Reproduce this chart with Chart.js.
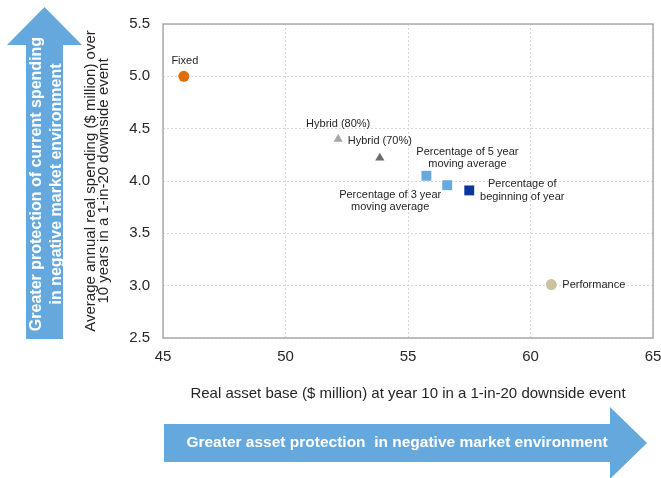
<!DOCTYPE html>
<html>
<head>
<meta charset="utf-8">
<script src="https://cdn.jsdelivr.net/npm/chart.js@4.4.1/dist/chart.umd.min.js"></script>
<style>
  html, body { margin: 0; padding: 0; background: #ffffff; }
  #wrap { width: 661px; height: 478px; position: relative; }
</style>
</head>
<body>
<div id="wrap"><canvas id="chart" width="661" height="478"></canvas></div>
<script>
// Spending rules compared in a 1-in-20 downside event
const strategies = ['Fixed', 'Hybrid (80%)', 'Hybrid (70%)', 'Percentage of 5 year moving average',
  'Percentage of 3 year moving average', 'Percentage of beginning of year', 'Performance'];
const assetBase = [45.85, 52.15, 53.85, 55.75, 56.6, 57.5, 60.85];      // $ million at year 10
const annualSpending = [5.0, 4.40, 4.22, 4.05, 3.96, 3.91, 3.01];      // $ million per year
const pointLabels = [
  ['Fixed'],
  ['Hybrid (80%)'],
  ['Hybrid (70%)'],
  ['Percentage of 5 year', 'moving average'],
  ['Percentage of 3 year', 'moving average'],
  ['Percentage of', 'beginning of year'],
  ['Performance']
];
const xTicks = [45, 50, 55, 60, 65];
const yTicks = [2.5, 3.0, 3.5, 4.0, 4.5, 5.0, 5.5];
const xTitle = 'Real asset base ($ million) at year 10 in a 1-in-20 downside event';
const yTitle = ['Average annual real spending ($ million) over', '10 years in a 1-in-20 downside event'];
const upArrowText = ['Greater protection of current spending', 'in negative market environment'];
const rightArrowText = 'Greater asset protection  in negative market environment';

// Marker styling
const markerColors = ['#e36c0a', '#a6a6a6', '#6b6b6b', '#65a9e0', '#65a9e0', '#0d359a', '#c9c3a0'];
const markerShapes = ['circle', 'triangle', 'triangle', 'rect', 'rect', 'rect', 'circle'];
const markerRadius = [5.5, 5.3, 5.3, 7, 7, 7, 5.5];
// Label placement relative to each marker: [dx, dy of first line, text align]
const labelPlacement = [
  [1, -15, 'center'],
  [0, -15, 'center'],
  [0, -17, 'center'],
  [41, -24, 'center'],
  [-57, 9.5, 'center'],
  [53, -6, 'center'],
  [11, 0, 'left']
];

const ARROW_BLUE = '#65a8dd';
const TEXT_DARK = '#262626';

const pointLabelPlugin = {
  id: 'pointLabels',
  afterDatasetsDraw(chart) {
    const ctx = chart.ctx;
    const meta = chart.getDatasetMeta(0);
    ctx.save();
    ctx.font = '11px "Liberation Sans", Arial, sans-serif';
    ctx.fillStyle = TEXT_DARK;
    ctx.textBaseline = 'middle';
    meta.data.forEach((pt, i) => {
      const [dx, dy, align] = labelPlacement[i];
      ctx.textAlign = align;
      pointLabels[i].forEach((line, k) => {
        ctx.fillText(line, pt.x + dx, pt.y + dy + k * 12.5);
      });
    });
    ctx.restore();
  }
};

const framePlugin = {
  id: 'frame',
  afterDraw(chart) {
    const { ctx, chartArea: a } = chart;
    ctx.save();
    ctx.strokeStyle = '#aaaaaa';
    ctx.lineWidth = 1.5;
    ctx.strokeRect(a.left, a.top, a.right - a.left, a.bottom - a.top);
    ctx.restore();
  }
};

const arrowPlugin = {
  id: 'arrows',
  beforeDraw(chart) {
    const { ctx, chartArea: a } = chart;
    ctx.save();
    ctx.fillStyle = ARROW_BLUE;

    // Upward arrow beside the spending axis
    ctx.beginPath();
    ctx.moveTo(26, a.bottom + 1);
    ctx.lineTo(26, 45);
    ctx.lineTo(7, 45);
    ctx.lineTo(44.5, 7);
    ctx.lineTo(82, 45);
    ctx.lineTo(63, 45);
    ctx.lineTo(63, a.bottom + 1);
    ctx.closePath();
    ctx.fill();

    // Rightward arrow under the asset axis
    ctx.beginPath();
    ctx.moveTo(a.left + 1, 424);
    ctx.lineTo(610, 424);
    ctx.lineTo(610, 407);
    ctx.lineTo(647, 443);
    ctx.lineTo(610, 479);
    ctx.lineTo(610, 462);
    ctx.lineTo(a.left + 1, 462);
    ctx.closePath();
    ctx.fill();

    ctx.fillStyle = '#ffffff';
    ctx.textAlign = 'center';
    ctx.textBaseline = 'middle';

    ctx.save();
    ctx.translate(0, 184);
    ctx.rotate(-Math.PI / 2);
    ctx.font = 'bold 16px "Liberation Sans", Arial, sans-serif';
    ctx.fillText(upArrowText[0], 0, 37);
    ctx.fillText(upArrowText[1], 0, 56.5);
    ctx.restore();

    ctx.font = 'bold 15.5px "Liberation Sans", Arial, sans-serif';
    ctx.fillText(rightArrowText, 397, 443);
    ctx.restore();
  }
};

const axisFont = { family: '"Liberation Sans", Arial, sans-serif', size: 15 };

new Chart(document.getElementById('chart'), {
  type: 'scatter',
  data: {
    datasets: [{
      label: 'Spending rules',
      data: assetBase.map((x, i) => ({ x: x, y: annualSpending[i] })),
      backgroundColor: markerColors,
      borderColor: markerColors,
      borderWidth: 0,
      pointStyle: markerShapes,
      pointRadius: markerRadius,
      pointHoverRadius: markerRadius
    }]
  },
  options: {
    responsive: false,
    animation: false,
    devicePixelRatio: 1,
    layout: { padding: { left: 83, right: 8, top: 24, bottom: 70 } },
    plugins: {
      legend: { display: false },
      tooltip: { enabled: false }
    },
    scales: {
      x: {
        type: 'linear',
        min: 45,
        max: 65,
        afterBuildTicks: s => { s.ticks = xTicks.map(v => ({ value: v })); },
        afterFit: s => { s.height = 70; s.paddingLeft = 0; s.paddingRight = 0; },
        ticks: { font: axisFont, color: TEXT_DARK, padding: 10, callback: v => String(v) },
        grid: { color: '#d9d9d9', lineWidth: 1, drawTicks: false },
        border: { display: false, dash: [2, 2] },
        title: {
          display: true,
          text: xTitle,
          color: TEXT_DARK,
          font: { family: axisFont.family, size: 15, lineHeight: 1.2 },
          padding: { top: 0, bottom: 5 }
        }
      },
      y: {
        type: 'linear',
        min: 2.5,
        max: 5.5,
        afterBuildTicks: s => { s.ticks = yTicks.map(v => ({ value: v })); },
        afterFit: s => { s.width = 80; s.paddingTop = 0; s.paddingBottom = 0; },
        ticks: { font: axisFont, color: TEXT_DARK, padding: 13, callback: v => Number(v).toFixed(1) },
        grid: { color: '#d9d9d9', lineWidth: 1, drawTicks: false },
        border: { display: false, dash: [2, 2] },
        title: {
          display: true,
          text: yTitle,
          color: TEXT_DARK,
          font: { family: axisFont.family, size: 15, lineHeight: 0.9 },
          padding: { top: 1, bottom: 0 }
        }
      }
    }
  },
  plugins: [arrowPlugin, pointLabelPlugin, framePlugin]
});
</script>
</body>
</html>
